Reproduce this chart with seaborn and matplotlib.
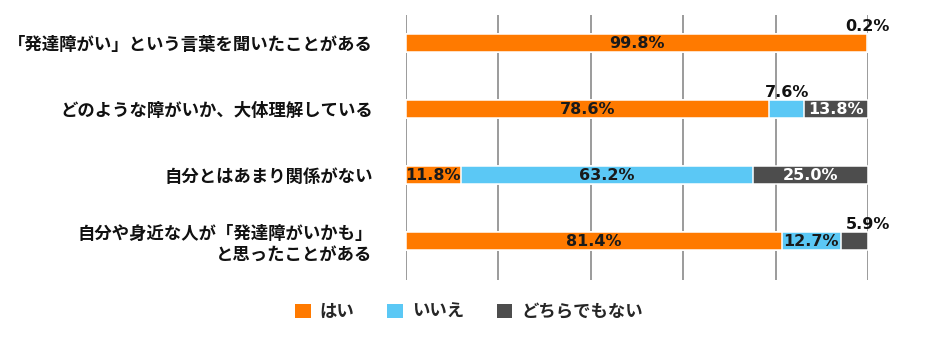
import matplotlib
matplotlib.use("Agg")
import matplotlib.pyplot as plt
import seaborn as sns
import pandas as pd
import numpy as np
from matplotlib.patches import Patch

sns.set_theme(style="white")
plt.rcParams['font.family'] = ['Noto Sans CJK JP', 'DejaVu Sans']

categories = [
    "「発達障がい」という言葉を聞いたことがある",
    "どのような障がいか、大体理解している",
    "自分とはあまり関係がない",
    "自分や身近な人が「発達障がいかも」\nと思ったことがある",
]
series = ["はい", "いいえ", "どちらでもない"]
yes = [99.8, 78.6, 11.8, 81.4]
no = [0.2, 7.6, 63.2, 12.7]
neither = [0.0, 13.8, 25.0, 5.9]

colors = ["#FF7A00", "#5BC8F5", "#4D4D4D"]
text_colors = ["#1a1a1a", "#1a1a1a", "#ffffff"]

df = pd.DataFrame({"cat": categories, "はい": yes, "いいえ": no, "どちらでもない": neither})
df["c1"] = df["はい"]
df["c2"] = df["はい"] + df["いいえ"]
df["c3"] = df["c2"] + df["どちらでもない"]

fig = plt.figure(figsize=(9.38, 3.43), dpi=100)
ax = fig.add_axes([406/938, 1-280/343, (868-406)/938, (280-15)/343])

# gridlines behind
for g in [0, 20, 40, 60, 80, 100]:
    ax.axvline(g, color="#808080", lw=1.1, zorder=0)

for col, c in zip(["c3", "c2", "c1"], colors[::-1]):
    sns.barplot(data=df, x=col, y="cat", orient="h", color=c, width=0.26,
                edgecolor="white", linewidth=1.1, ax=ax, zorder=2,
                saturation=1)

ax.set_xlim(0, 100)
ax.set_ylim(3.59, -0.424)
ax.set_xlabel("")
ax.set_ylabel("")
ax.set_xticks([])
for s in ax.spines.values():
    s.set_visible(False)
ax.tick_params(axis="y", length=0, pad=24)
for lbl in ax.get_yticklabels():
    lbl.set_fontsize(12.5)
    lbl.set_fontweight("bold")
    lbl.set_color("#111111")
    lbl.set_multialignment("right")

vals = [yes, no, neither]
starts = [np.zeros(4), np.array(yes), np.array(yes) + np.array(no)]
for si in range(3):
    for i in range(4):
        v = vals[si][i]
        if v <= 0:
            continue
        cx = starts[si][i] + v / 2
        txt = f"{v:.1f}%"
        if v < 10:
            if cx > 95:
                cx = 99.9
            ax.text(cx, i - 0.135, txt, ha="center", va="bottom", fontsize=11.5,
                    fontweight="bold", family="DejaVu Sans", color="#111111", zorder=4)
        else:
            ax.text(cx, i + 0.01, txt, ha="center", va="center", fontsize=11.5,
                    fontweight="bold", family="DejaVu Sans", color=text_colors[si], zorder=4)

handles = [Patch(facecolor=c, edgecolor="none") for c in colors]
leg = fig.legend(handles, series, loc="center", bbox_to_anchor=(0.5, 0.09), ncol=3,
                 frameon=False, handlelength=0.9, handleheight=0.9, handletextpad=0.5,
                 columnspacing=1.9, prop={"family": ['Noto Sans CJK JP', 'DejaVu Sans'],
                                          "weight": "bold", "size": 12.5})

fig.savefig("out.png", dpi=100)
